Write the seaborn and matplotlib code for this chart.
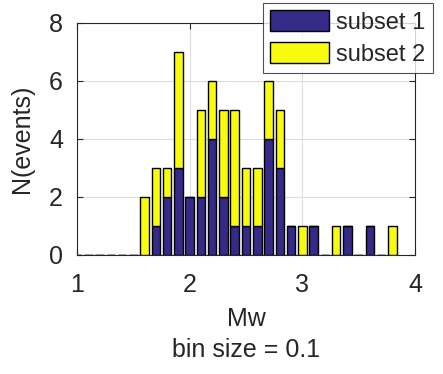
import numpy as np
import pandas as pd
import matplotlib
matplotlib.use("Agg")
import matplotlib.pyplot as plt
import seaborn as sns
from matplotlib.patches import Patch

bin_centers = [1.0, 1.1, 1.2, 1.3, 1.4, 1.5, 1.6, 1.7, 1.8, 1.9, 2.0, 2.1, 2.2, 2.3, 2.4,
               2.5, 2.6, 2.7, 2.8, 2.9, 3.0, 3.1, 3.2, 3.3, 3.4, 3.5, 3.6, 3.7, 3.8]
subset1_counts = [0, 0, 0, 0, 0, 0, 0, 1, 2, 3, 2, 2, 4, 2, 1,
                  1, 1, 4, 3, 1, 0, 1, 0, 0, 1, 0, 1, 0, 0]
subset2_counts = [0, 0, 0, 0, 0, 0, 2, 2, 1, 4, 0, 3, 2, 3, 4,
                  2, 2, 2, 2, 0, 1, 0, 0, 1, 0, 0, 0, 0, 1]
series_names = ["subset 1", "subset 2"]
x_ticks = [1, 2, 3, 4]
y_ticks = [0, 2, 4, 6, 8]

c1 = "#352A87"
c2 = "#F9FB0E"
txt = "#262626"

df = pd.DataFrame({
    "Mw": bin_centers * 2,
    "count": subset1_counts + subset2_counts,
    "subset": [series_names[0]] * len(bin_centers) + [series_names[1]] * len(bin_centers),
})

sns.set_style("white")
plt.rcParams["font.family"] = ["Liberation Sans", "DejaVu Sans"]
plt.rcParams["font.size"] = 18

fig = plt.figure(figsize=(4.43, 3.74), dpi=100)
ax = fig.add_axes([77 / 443, 1 - 255 / 374, (415 - 77) / 443, (255 - 23) / 374])

sns.histplot(data=df, x="Mw", weights="count", hue="subset", hue_order=series_names[::-1],
             binwidth=0.1, binrange=(min(bin_centers) - 0.05, max(bin_centers) + 0.05),
             multiple="stack", shrink=0.76, ax=ax,
             palette={series_names[0]: c1, series_names[1]: c2},
             alpha=1, edgecolor="black", linewidth=1.0, legend=False)

ax.set_xlim(1, 4)
ax.set_ylim(0, 8)
ax.set_xticks(x_ticks)
ax.set_yticks(y_ticks)
ax.grid(True, color="#dcdcdc", linewidth=0.8)
ax.set_axisbelow(True)
for s in ax.spines.values():
    s.set_color("#262626")
    s.set_linewidth(0.8)
    s.set_visible(True)
ax.tick_params(direction="in", length=4, width=0.8, colors=txt, labelsize=18,
               top=True, right=True, bottom=True, left=True)
ax.tick_params(axis="x", pad=13)
ax.tick_params(axis="y", pad=10)
ax.set_xlabel("Mw\nbin size = 0.1", color=txt, fontsize=18, linespacing=1.4, labelpad=7)
ax.set_ylabel("N(events)", color=txt, fontsize=18, labelpad=11)

handles = [Patch(facecolor=c1, edgecolor="black", label=series_names[0]),
           Patch(facecolor=c2, edgecolor="black", label=series_names[1])]
leg = ax.legend(handles=handles, loc="upper left", bbox_to_anchor=(263 / 443, 1 - 3 / 374),
                bbox_transform=fig.transFigure, fontsize=17, frameon=True, fancybox=False,
                edgecolor="#262626", handlelength=2.5, handleheight=1.0, borderpad=0.3,
                labelspacing=0.35, handletextpad=0.3, borderaxespad=0)
leg.get_frame().set_linewidth(0.8)
for t in leg.get_texts():
    t.set_color(txt)

fig.savefig("out.png", dpi=100)
